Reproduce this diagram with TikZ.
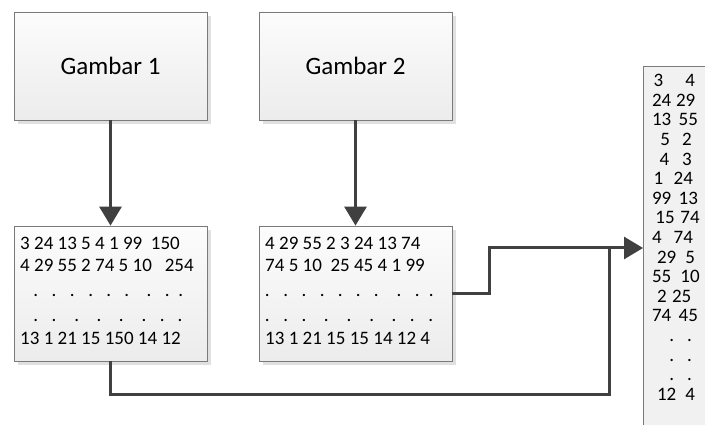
\documentclass[tikz,border=0pt]{standalone}
\usepackage{fontspec}
\setmainfont{Carlito}
\usetikzlibrary{arrows.meta,shadows}
\definecolor{edge}{HTML}{7A7A7A}
\definecolor{wire}{HTML}{404040}
\definecolor{paneltop}{HTML}{FCFCFC}
\definecolor{panelbot}{HTML}{ECECEC}
\definecolor{columnfill}{HTML}{F1F1F1}
\begin{document}
\begin{tikzpicture}[x=1pt,y=-1pt,
  panel/.style={draw=edge, line width=0.8pt, top color=paneltop, bottom color=panelbot,
    drop shadow={shadow xshift=4pt, shadow yshift=-4pt, fill=black, opacity=0.12},
    minimum width=193pt, inner sep=0pt},
  wire/.style={draw=wire, line width=3pt},
  tip/.style={-{Triangle[length=19pt,width=22pt]}},
  datum/.style={anchor=base west, inner sep=0pt, font=\fontsize{19}{19}\selectfont},
  dot/.style={anchor=base, inner sep=0pt, font=\fontsize{19}{19}\selectfont},
]
\useasboundingbox (0,0) rectangle (705,425);
\fill[white] (0,0) rectangle (705,425);
\clip (0,0) rectangle (705,425);

% source images
\node[panel, minimum height=108pt, font=\fontsize{25}{25}\selectfont] (g1) at (110.5,66) {Gambar 1};
\node[panel, minimum height=108pt, font=\fontsize{25}{25}\selectfont] (g2) at (355.5,66) {Gambar 2};

% pixel tables
\node[panel, minimum height=135pt] (d1) at (110.5,293.5) {};
\node[panel, minimum height=135pt] (d2) at (355.5,293.5) {};

% merged column
\node[draw=edge, line width=0.8pt, fill=columnfill, minimum width=80pt, minimum height=380pt,
      anchor=north west, inner sep=0pt] (t) at (643,66) {};

% table 1 contents
\node[datum] (d1l1) at (20,250) {3 24 13 5 4 1 99 \ 150};
\node[datum] (d1l2) at (20,272) {4 29 55 2 74 5 10 \ \ 254};
\node[datum] (d1l5) at (20,344) {13 1 21 15 150 14 12};
\foreach \x [count=\i] in {35.7,54,72.3,90.7,108.7,126.7,149,167.3,180.7}
  \node[dot] (d1a\i) at (\x,297) {.};
\foreach \x [count=\i] in {35.7,54,76.7,99,121.3,144,162.3,180}
  \node[dot] (d1b\i) at (\x,321) {.};

% table 2 contents
\node[datum] (d2l1) at (265,250) {4 29 55 2 3 24 13 74};
\node[datum] (d2l2) at (265,272) {74 5 10 \ 25 45 4 1 99};
\node[datum] (d2l5) at (265,344) {13 1 21 15 15 14 12 4};
\foreach \x [count=\i] in {267.3,285.7,304,322.3,340.3,358.3,376.3,399,417.3,431.3}
  \node[dot] (d2a\i) at (\x,297) {.};
\foreach \x [count=\i] in {267.3,285.7,304,326.3,349,371.7,394,412.3,430.7}
  \node[dot] (d2b\i) at (\x,321) {.};

% column contents: left value / right value per row
\foreach \a/\b/\c/\d [count=\k] in {
    655/3/686.7/4, 653.3/24/677.3/29, 653.3/13/680/55, 661.7/5/683.3/2,
    661/4/683.3/3, 655/1/675/24, 653.3/99/680/13, 656.7/15/681.7/74,
    653.3/4/675/74, 658.3/29/686.7/5, 653.3/55/681.7/10, 658.3/2/673.3/25,
    653.3/74/680/45, 670.7/./688.3/., 670.7/./688.3/., 670.7/./688.3/.,
    658.3/12/686.7/4} {
  \pgfmathsetmacro\yy{86.7+19.6*(\k-1)}
  \node[datum] (ta\k) at (\a-1.5,\yy) {\b};
  \node[datum] (tb\k) at (\c-1.5,\yy) {\d};
}

% connectors
\coordinate (j) at (489,248);
\coordinate (k) at (609,394);
\draw[wire,tip] (g1) -- (d1);
\draw[wire,tip] (g2) -- (d2);
\draw[wire,tip] (d2.east) -| (j) -- (t.west |- j);
\draw[wire] (d1.south) |- (k) -- (k |- j);
\end{tikzpicture}
\end{document}
